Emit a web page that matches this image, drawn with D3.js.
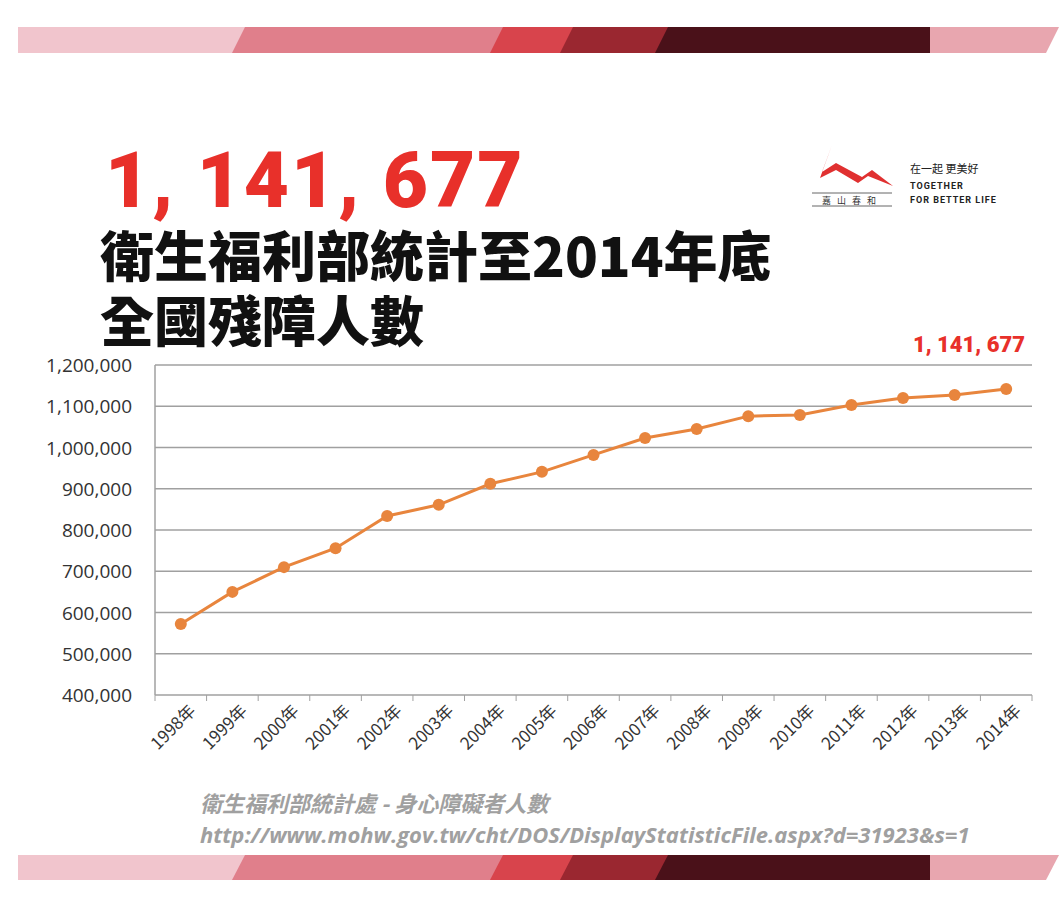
<!DOCTYPE html>
<html><head><meta charset="utf-8">
<script src="https://cdn.jsdelivr.net/npm/d3@7"></script>
<style>body{margin:0;background:#fff}</style>
</head><body>
<svg id="c" width="1064" height="904"></svg>
<script>
const years = ['1998年','1999年','2000年','2001年','2002年','2003年','2004年','2005年','2006年','2007年','2008年','2009年','2010年','2011年','2012年','2013年','2014年'];
const counts = [572000,650000,710000,756000,834000,861000,912000,941000,982000,1023000,1045000,1076000,1079000,1103000,1120000,1127000,1141677];
const yTicks = [400000,500000,600000,700000,800000,900000,1000000,1100000,1200000];

const svg = d3.select('#c');
const cjk = '"Noto Sans CJK TC", "Noto Sans", sans-serif';

// banner strips top and bottom
const stripes = [
  {x0: 18, x1: 245, c: '#f1c5cd'},
  {x0: 232, x1: 505, c: '#e07f8b'},
  {x0: 490, x1: 575, c: '#d8444c'},
  {x0: 560, x1: 670, c: '#9a2730'},
  {x0: 655, x1: 930, c: '#4a1119'},
  {x0: 930, x1: 1046, c: '#e8a6af'}
];
[[27, 26], [855, 25]].forEach(([y, h]) => {
  stripes.forEach(s => {
    const sk = s.x0 === 18 || s.x1 === 1046 ? 0 : 13;
    svg.append('path')
      .attr('d', `M${s.x0 + sk},${y}L${s.x1 + 13},${y}L${s.x1},${y + h}L${s.x0},${y + h}Z`)
      .attr('fill', s.c);
  });
});

// headline
svg.append('text').attr('x', 105).attr('y', 207).attr('font-family', 'Roboto, sans-serif')
  .attr('font-weight', 900).attr('font-size', 78).attr('letter-spacing', 2).attr('fill', '#e8302a').text('1, 141, 677');
svg.append('text').attr('x', 100).attr('y', 277).attr('font-family', cjk)
  .attr('font-weight', 900).attr('font-size', 54).attr('fill', '#111').text('衛生福利部統計至2014年底');
svg.append('text').attr('x', 100).attr('y', 342).attr('font-family', cjk)
  .attr('font-weight', 900).attr('font-size', 54).attr('fill', '#111').text('全國殘障人數');

// logo
const logo = svg.append('g');
logo.append('path').attr('d', 'M832,145 L822,172 L836,163 L862,177 L872,170 L893,186 L868,176 L858,183 L836,170 L820,178 Z')
  .attr('fill', '#e03030');
logo.append('line').attr('x1', 812).attr('x2', 892).attr('y1', 193).attr('y2', 193).attr('stroke', '#666');
logo.append('line').attr('x1', 812).attr('x2', 892).attr('y1', 206).attr('y2', 206).attr('stroke', '#666');
logo.append('text').attr('x', 852).attr('y', 204).attr('text-anchor', 'middle').attr('font-family', cjk)
  .attr('font-size', 9).attr('fill', '#333').attr('letter-spacing', 6).text('嘉山春和');
logo.append('text').attr('x', 910).attr('y', 173).attr('font-family', cjk).attr('font-size', 11).attr('fill', '#222').text('在一起 更美好');
logo.append('text').attr('x', 910).attr('y', 189).attr('font-family', 'Roboto, sans-serif').attr('font-weight', 700)
  .attr('font-size', 9).attr('letter-spacing', 1).attr('fill', '#222').text('TOGETHER');
logo.append('text').attr('x', 910).attr('y', 203).attr('font-family', 'Roboto, sans-serif').attr('font-weight', 700)
  .attr('font-size', 9).attr('letter-spacing', 1).attr('fill', '#222').text('FOR BETTER LIFE');

// chart
const x = d3.scaleBand().domain(years).range([155, 1032]);
const y = d3.scaleLinear().domain([400000, 1200000]).range([695, 365]);

svg.append('g').selectAll('line').data(yTicks).join('line')
  .attr('x1', 155).attr('x2', 1032).attr('y1', d => y(d)).attr('y2', d => y(d))
  .attr('stroke', '#a0a0a0').attr('stroke-width', 1.5);
svg.append('line').attr('x1', 155).attr('x2', 155).attr('y1', 365).attr('y2', 695)
  .attr('stroke', '#a0a0a0').attr('stroke-width', 1.5);
svg.append('g').selectAll('line').data(d3.range(years.length + 1)).join('line')
  .attr('x1', i => 155 + i * x.step()).attr('x2', i => 155 + i * x.step())
  .attr('y1', 695).attr('y2', 701).attr('stroke', '#a0a0a0');

svg.append('g').selectAll('text').data(yTicks).join('text')
  .attr('x', 132).attr('y', d => y(d) + 7).attr('text-anchor', 'end')
  .attr('font-family', '"Open Sans", sans-serif').attr('font-size', 19).attr('fill', '#333')
  .text(d => d3.format(',')(d));

svg.append('g').selectAll('text').data(years).join('text')
  .attr('transform', d => `translate(${x(d) + x.bandwidth() / 2 + 16},${712}) rotate(-45)`)
  .attr('text-anchor', 'end').attr('font-family', cjk).attr('font-size', 17).attr('fill', '#333')
  .text(d => d);

const line = d3.line().x((d, i) => x(years[i]) + x.bandwidth() / 2).y(d => y(d));
svg.append('path').datum(counts).attr('d', line).attr('fill', 'none')
  .attr('stroke', '#e8853d').attr('stroke-width', 3);
svg.append('g').selectAll('circle').data(counts).join('circle')
  .attr('cx', (d, i) => x(years[i]) + x.bandwidth() / 2).attr('cy', d => y(d)).attr('r', 6)
  .attr('fill', '#e8853d');

svg.append('text').attr('x', 1025).attr('y', 352).attr('text-anchor', 'end')
  .attr('font-family', 'Roboto, sans-serif').attr('font-weight', 900).attr('font-size', 22)
  .attr('fill', '#e8302a').text(d3.format(',')(counts[counts.length - 1]).replace(/,/g, ', '));

// source
svg.append('text').attr('x', 200).attr('y', 812).attr('font-family', cjk).attr('font-style', 'italic')
  .attr('font-weight', 700).attr('font-size', 22).attr('fill', '#a0a0a0').text('衛生福利部統計處 - 身心障礙者人數');
svg.append('text').attr('x', 200).attr('y', 843).attr('font-family', '"Open Sans", sans-serif').attr('font-style', 'italic')
  .attr('font-weight', 700).attr('font-size', 22).attr('fill', '#a0a0a0').text('http://www.mohw.gov.tw/cht/DOS/DisplayStatisticFile.aspx?d=31923&s=1');
</script>
</body></html>
